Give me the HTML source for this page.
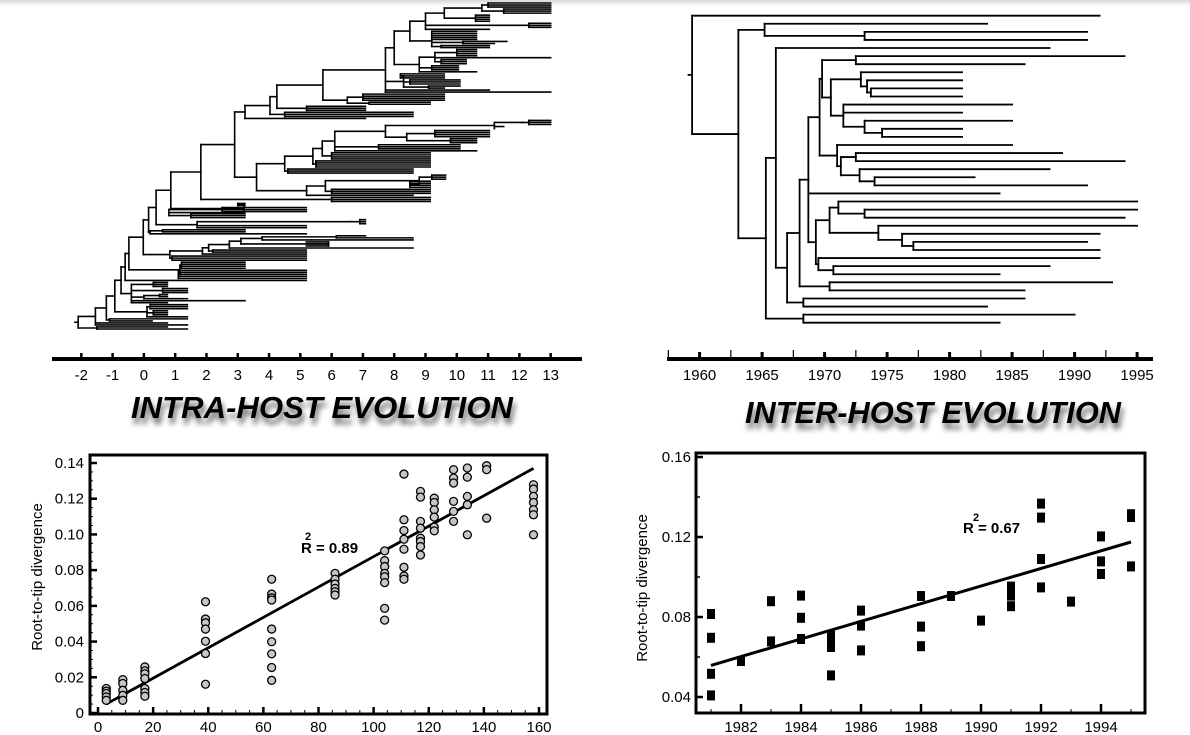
<!DOCTYPE html>
<html><head><meta charset="utf-8"><style>
html,body{margin:0;padding:0;background:#fff;}
svg{display:block;font-family:"Liberation Sans",sans-serif;}
</style></head><body>
<svg id="fig" width="1190" height="735" viewBox="0 0 1190 735" xmlns="http://www.w3.org/2000/svg">
<defs>
<linearGradient id="topg" x1="0" y1="0" x2="0" y2="1"><stop offset="0" stop-color="#d8d8d8"/><stop offset="1" stop-color="#fff"/></linearGradient>
<filter id="sh" x="-10%" y="-30%" width="120%" height="180%"><feGaussianBlur in="SourceAlpha" stdDeviation="3"/><feOffset dx="2" dy="6"/><feComponentTransfer><feFuncA type="linear" slope="0.6"/></feComponentTransfer><feMerge><feMergeNode/><feMergeNode in="SourceGraphic"/></feMerge></filter>
</defs>
<rect x="0" y="0" width="1190" height="6" fill="url(#topg)"/>
<g id="intraTree"></g>
<g id="intraAxis"></g>
<g id="interTree"></g>
<g id="interAxis"></g>
<text x="322" y="418" text-anchor="middle" font-size="31" font-weight="bold" font-style="italic" textLength="382" lengthAdjust="spacingAndGlyphs" filter="url(#sh)">INTRA-HOST EVOLUTION</text>
<text x="933" y="423" text-anchor="middle" font-size="31" font-weight="bold" font-style="italic" textLength="376" lengthAdjust="spacingAndGlyphs" filter="url(#sh)">INTER-HOST EVOLUTION</text>
<g id="intraScatter"></g>
<g id="interScatter"></g>
</svg>
<script>
// ---------- scatter data ----------
const intraX = [3,3,3,3,3, 9,9,9,9,9, 17,17,17,17,17,17,17, 39,39,39,39,39,39,39, 63,63,63,63,63,63,63,63,63, 86,86,86,86,86,86, 104,104,104,104,104,104,104,104, 111,111,111,111,111,111,111,111, 117,117,117,117,117,117,117,117, 122,122,122,122,122,122, 129,129,129,129,129,129, 134,134,134,134,134, 141,141,141, 158,158,158,158,158,158,158];
const intraY = [.0137,.0122,.0109,.009,.0071, .0187,.0165,.0127,.0099,.0071, .0258,.0236,.022,.0193,.0137,.0115,.0094, .0623,.0526,.0505,.047,.0402,.0333,.0161, .0749,.0666,.0645,.0633,.047,.0399,.0331,.0255,.0183, .0782,.0749,.0722,.0698,.0679,.0661, .0908,.0853,.082,.0782,.0763,.073,.0586,.052, .1338,.1082,.1022,.0973,.0917,.0816,.0767,.0749, .1241,.1209,.1073,.1035,.0979,.096,.0932,.0885, .1203,.1179,.1138,.1097,.1041,.102, .1363,.1316,.1288,.1185,.1129,.1073, .1372,.1321,.1213,.1166,.0998, .1385,.1363,.1091, .1278,.1254,.1213,.1179,.1138,.111,.0998];
const intraFitX = [3,158];
const intraFitY = [0.005,0.137];
const intraXTicks = [0,20,40,60,80,100,120,140,160];
const intraYTicks = [0,0.02,0.04,0.06,0.08,0.10,0.12,0.14];
const intraYLabels = ["0","0.02","0.04","0.06","0.08","0.10","0.12","0.14"];

const interX = [1981,1981,1981,1981, 1982, 1983,1983, 1984,1984,1984, 1985,1985,1985,1985, 1986,1986,1986, 1988,1988,1988, 1989, 1990, 1991,1991,1991, 1992,1992,1992,1992, 1993, 1994,1994,1994, 1995,1995,1995];
const interY = [.0815,.0696,.0516,.0408, .058, .0879,.0678, .0907,.0796,.069, .0707,.068,.065,.0508, .0832,.0757,.0633, .0905,.0752,.0654, .0905, .0782, .0952,.0907,.0854, .1367,.1297,.109,.0948, .0877, .1203,.1078,.1015, .1314,.130,.1053];
const interFitX = [1981,1995];
const interFitY = [0.0558,0.1175];
const interXTicks = [1982,1984,1986,1988,1990,1992,1994];
const interYTicks = [0.04,0.08,0.12,0.16];
const interYLabels = ["0.04","0.08","0.12","0.16"];

// ---------- tree data ----------
const L = (t,...c)=>({t:t,c:c});
const B = (n,a,tip)=>({t:a,c:Array(n).fill(tip)});

const ATOP = L(8.0,
  L(8.5,
    L(9.0, L(9.6, L(10.8, B(3,11.0,13), B(3,11.5,13)), B(4,10.6,11.04)), B(3,12.3,13), 11.04),
    L(9.2, B(5,9.2,10.63), L(10.2,11.6,11.2), B(2,9.5,11.04))
  ),
  L(8.8, L(9.3, B(4,10.0,10.63), 13, B(3,9.5,10.3)), B(3,9.2,10.05), 10.63)
);
const XCLADE = L(2.9,
  L(3.23,
    L(4.03,
      L(4.25,
        L(5.72,
          L(7.72, ATOP, L(8.3, B(3,8.2,9.6), B(3,8.5,10.1), L(9.1,10.1,9.6)), 11.04, 13),
          L(6.5, B(4,7.0,9.6), B(2,7.2,9.15))
        ),
        B(3,5.2,7.08)
      ),
      B(3,4.5,8.6)
    ),
    7.08
  ),
  L(3.6,
    L(4.5,
      L(5.4,
        L(5.7, L(6.1, L(7.72, L(11.2, L(12.1, B(3,12.3,13)), 11.5, 11.2), L(8.4, B(4,9.3,11.04), B(3,9.8,10.63))), B(3,7.5,10.1), 10.63), B(4,6.0,9.15)),
        B(4,5.5,9.15)
      ),
      B(3,4.6,8.6)
    ),
    L(5.2, L(5.8, L(8.8, B(3,9.2,9.64), B(4,8.5,9.15)), B(3,6.0,9.15)), 8.6)
  )
);
const intraTree = L(-2.1,
  L(-1.55,
    L(-1.2,
      L(-0.93,
        L(-0.73,
          L(-0.6,
            L(-0.48,
              L(-0.02,
                L(0.15,
                  L(0.39,
                    L(0.86,
                      L(1.82, XCLADE, L(6.0, 9.15, 9.15, 9.15)),
                      L(3.2, B(2,3.0,3.23), L(0.8, B(3,2.5,5.19), B(3,1.5,3.23)))
                    ),
                    L(1.7, L(6.6, B(3,6.9,7.08)), 5.19, 5.19)
                  ),
                  L(0.2, B(2,0.6,3.23), 5.19)
                ),
                L(0.83, L(1.87, L(2.07, L(2.73, L(3.1, L(3.78, L(6.15,7.08,8.6),8.6), B(3,5.9,5.19)), 8.6), B(2,2.2,5.19)), 5.19), B(3,0.9,5.19))
              ),
              L(1.15, B(4,1.2,3.23), B(5,1.1,5.19))
            ),
            5.19
          ),
          L(-0.4, B(3,0.3,0.75), B(3,0.6,1.39), L(0.0, B(2,0.5,0.75), 1.39), 3.23, 0.75)
        ),
        L(0.1, B(3,0.2,1.39), B(3,0.3,0.75), 1.39)
      ),
      L(-1.1, 1.39, 0.26)
    ),
    0.75, 1.39
  ),
  L(-1.5, 0.75, 1.39)
);
const intraAxisTicks = [-2,-1,0,1,2,3,4,5,6,7,8,9,10,11,12,13];

const interTree = L(1959.4,
  1992,
  L(1963.1,
    L(1965.2, 1983, L(1973.2, 1991, 1991)),
    L(1965.3,
      L(1966.1,
        1988,
        L(1967,
          L(1968,
            L(1968.7,
              L(1969.6,
                L(1969.8,
                  L(1972.5, 1994, 1986),
                  L(1970.5,
                    L(1972.9, 1981, L(1973.4, 1981, L(1973.7, 1981, 1981))),
                    L(1971.5, 1985, 1981, L(1973.2, 1985, L(1974.6, 1981, 1981)))
                  )
                ),
                L(1971, 1985, L(1971.3, L(1972.5, 1989, 1994), L(1972.8, 1988, L(1974, 1982, 1991))))
              ),
              1984,
              L(1969.3,
                L(1970.4, L(1971.1, 1995, L(1973.2, 1995, 1994)), L(1974.3, 1995, L(1976.2, 1992, L(1977.1, 1991, 1992)))),
                L(1969.5, 1992, L(1970.7, 1988, 1984))
              )
            ),
            L(1970.4, 1993, 1986)
          ),
          L(1968.3, 1986, 1983)
        )
      ),
      L(1968.3, 1990, 1984)
    )
  )
);
const interAxisMajor = [1960,1965,1970,1975,1980,1985,1990,1995];

// ---------- helpers ----------
const NS = "http://www.w3.org/2000/svg";
function mk(parent, tag, attrs){
  const e = document.createElementNS(NS, tag);
  for (const k in attrs) e.setAttribute(k, attrs[k]);
  parent.appendChild(e);
  return e;
}
function countLeaves(n){ return (typeof n === "number") ? 1 : n.c.reduce((s,c)=>s+countLeaves(c),0); }

function drawTree(g, root, xf, y0, y1, sw, stub){
  const n = countLeaves(root);
  const step = (y1-y0)/(n-1);
  let idx = 0;
  function rec(node){
    if (typeof node === "number"){ const y = y0 + step*(idx++); return {y:y, x:xf(node)}; }
    const kids = node.c.map(rec);
    const px = xf(node.t);
    const ys = kids.map(k=>k.y);
    const ymin = Math.min(...ys), ymax = Math.max(...ys);
    kids.forEach(k=>{
      const h = mk(g,"line",{x1:px,y1:k.y,x2:k.x,y2:k.y,stroke:"#000","stroke-width":sw,"stroke-linecap":"square"});
      
      
    });
    const v = mk(g,"line",{x1:px,y1:ymin,x2:px,y2:ymax,stroke:"#000","stroke-width":sw,"stroke-linecap":"square"});
    
    
    return {y:(ymin+ymax)/2, x:px};
  }
  const r = rec(root);
  const s = mk(g,"line",{x1:r.x-stub,y1:r.y,x2:r.x,y2:r.y,stroke:"#000","stroke-width":sw});
  
  
}

// ---------- intra-host tree ----------
const ix = t => 143.9 + t*31.29;
drawTree(document.getElementById("intraTree"), intraTree, ix, 3, 329, 1.6, 4);
(function(){
  const g = document.getElementById("intraAxis");
  mk(g,"line",{x1:52,y1:359,x2:582,y2:359,stroke:"#000","stroke-width":4});
  intraAxisTicks.forEach(t=>{
    const tk = mk(g,"line",{x1:ix(t),y1:353,x2:ix(t),y2:359,stroke:"#000","stroke-width":2.5});
    
    
    const tx = mk(g,"text",{x:ix(t),y:380,"text-anchor":"middle","font-size":15});
    tx.textContent = t;
    
    
  });
})();

// ---------- inter-host tree ----------
const jx = y => 699.6 + (y-1960)*12.5;
drawTree(document.getElementById("interTree"), interTree, jx, 15.7, 322.7, 1.8, 4.5);
(function(){
  const g = document.getElementById("interAxis");
  mk(g,"line",{x1:667,y1:359,x2:1153,y2:359,stroke:"#000","stroke-width":4});
  for (let y=1957.5; y<=1995.01; y+=2.5){
    const major = Math.abs(y%5)<0.01;
    const tk = mk(g,"line",{x1:jx(y),y1:major?352:350,x2:jx(y),y2:359,stroke:"#000","stroke-width":major?3:1.2});
    
    
  }
  interAxisMajor.forEach(y=>{
    const tx = mk(g,"text",{x:jx(y),y:380,"text-anchor":"middle","font-size":15});
    tx.textContent = y;
    
    
  });
})();

// ---------- intra scatter ----------
(function(){
  const g = document.getElementById("intraScatter");
  const X = v => 98 + v*(539-98)/160;
  const Y = v => 713 - v*(713-463)/0.14;
  mk(g,"rect",{x:90,y:455,width:457,height:259,fill:"none",stroke:"#000","stroke-width":3});
  for (let v=0; v<=160; v+=5){
    const major = v%20===0;
    const t = mk(g,"line",{x1:X(v),y1:714,x2:X(v),y2:major?707:710,stroke:"#000","stroke-width":major?2.5:1});
    
    
  }
  for (let i=0;i<=28;i++){
    const v = i*0.005, major = i%4===0;
    const t = mk(g,"line",{x1:90,y1:Y(v),x2:major?97:93,y2:Y(v),stroke:"#000","stroke-width":major?2.5:1});
    
    
  }
  intraXTicks.forEach(v=>{
    const t = mk(g,"text",{x:X(v),y:732,"text-anchor":"middle","font-size":15});
    t.textContent = v;
    
    
  });
  intraYTicks.forEach((v,i)=>{
    const t = mk(g,"text",{x:84,y:Y(v)+5,"text-anchor":"end","font-size":15});
    t.textContent = intraYLabels[i];
    
    
  });
  const yl = mk(g,"text",{x:0,y:0,"text-anchor":"middle","font-size":15,transform:"translate(42,577) rotate(-90)"});
  yl.textContent = "Root-to-tip divergence";
  
  
  const fl = mk(g,"line",{x1:X(intraFitX[0]),y1:Y(intraFitY[0]),x2:X(intraFitX[1]),y2:Y(intraFitY[1]),stroke:"#000","stroke-width":2.8});
  
  
  intraX.forEach((x,i)=>{
    const c = mk(g,"circle",{cx:X(x),cy:Y(intraY[i]),r:4,fill:"#c6c6c6",stroke:"#000","stroke-width":1.3});
    
    
  });
  const r1 = mk(g,"text",{x:301,y:553,"font-size":15,"font-weight":"bold"});
  r1.textContent = "R = 0.89";
  
  
  const r2 = mk(g,"text",{x:305,y:540,"font-size":11,"font-weight":"bold"});
  r2.textContent = "2";
  
  
})();

// ---------- inter scatter ----------
(function(){
  const g = document.getElementById("interScatter");
  const X = y => 711 + (y-1981)*30;
  const Y = v => 697 - (v-0.04)/0.12*240;
  mk(g,"rect",{x:696,y:453,width:449,height:260,fill:"none",stroke:"#000","stroke-width":3});
  for (let y=1981; y<=1995; y+=1){
    const major = y%2===0;
    const t = mk(g,"line",{x1:X(y),y1:713,x2:X(y),y2:major?704:709,stroke:"#000","stroke-width":major?2.5:1});
    
    
  }
  for (let i=0;i<=6;i++){
    const v = 0.04+i*0.02, major = i%2===0;
    const t = mk(g,"line",{x1:696,y1:Y(v),x2:major?703:700,y2:Y(v),stroke:"#000","stroke-width":major?2.5:1.5});
    
    
  }
  interXTicks.forEach(v=>{
    const t = mk(g,"text",{x:X(v),y:732,"text-anchor":"middle","font-size":15});
    t.textContent = v;
    
    
  });
  interYTicks.forEach((v,i)=>{
    const t = mk(g,"text",{x:691,y:Y(v)+5,"text-anchor":"end","font-size":15});
    t.textContent = interYLabels[i];
    
    
  });
  const yl = mk(g,"text",{x:0,y:0,"text-anchor":"middle","font-size":15,transform:"translate(647,588) rotate(-90)"});
  yl.textContent = "Root-to-tip divergence";
  
  
  const fl = mk(g,"line",{x1:X(interFitX[0]),y1:Y(interFitY[0]),x2:X(interFitX[1]),y2:Y(interFitY[1]),stroke:"#000","stroke-width":3});
  
  
  interX.forEach((x,i)=>{
    const r = mk(g,"rect",{x:X(x)-4,y:Y(interY[i])-5,width:8,height:10,fill:"#000"});
    
    
  });
  const r1 = mk(g,"text",{x:963,y:533,"font-size":15,"font-weight":"bold"});
  r1.textContent = "R = 0.67";
  
  
  const r2 = mk(g,"text",{x:973,y:521,"font-size":11,"font-weight":"bold"});
  r2.textContent = "2";
  
  
})();
</script>
</body></html>
